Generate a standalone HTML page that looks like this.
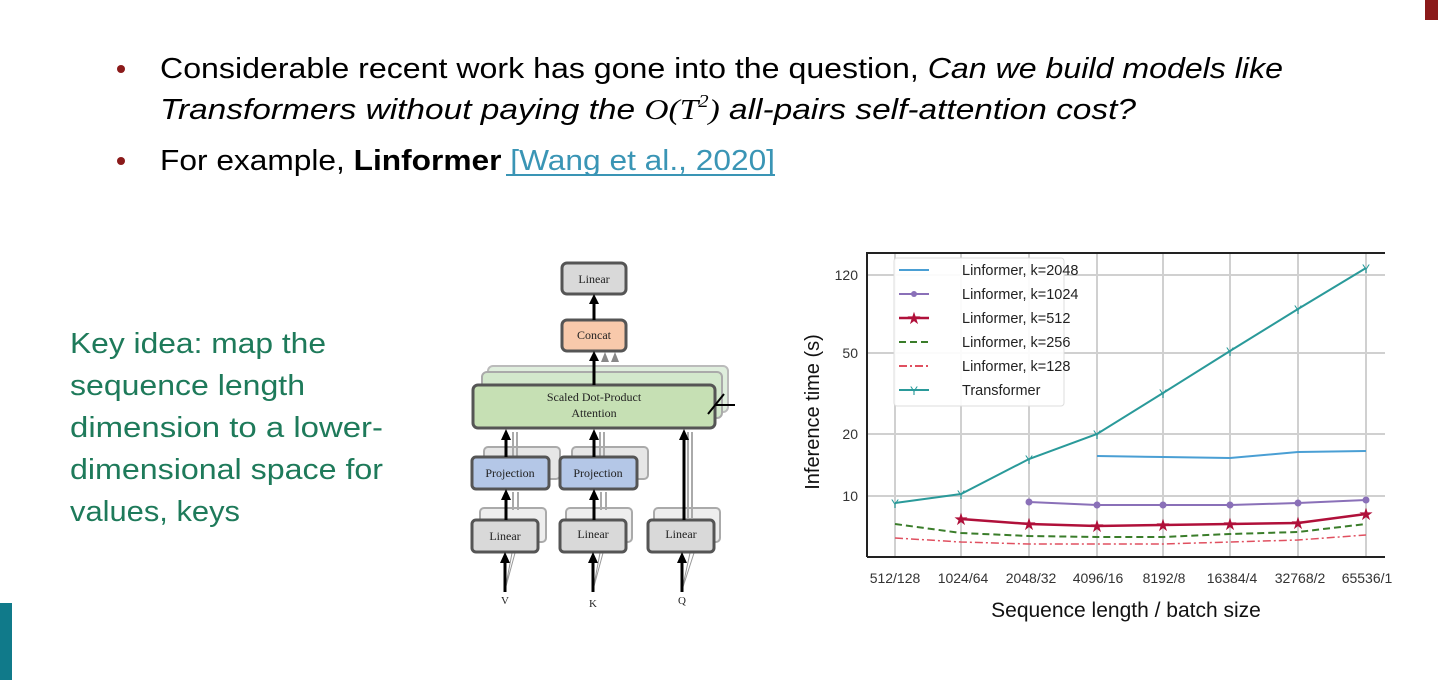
<!DOCTYPE html>
<html><head><meta charset="utf-8"><style>
body{margin:0;width:1438px;height:680px;overflow:hidden;background:#fff;font-family:"Liberation Sans",sans-serif;}
</style></head><body>
<svg width="1438" height="680" viewBox="0 0 1438 680" xmlns="http://www.w3.org/2000/svg" font-family="Liberation Sans, sans-serif">
<rect x="1425" y="0" width="13" height="20" fill="#8b1a1a"/>
<rect x="0" y="603" width="12" height="77" fill="#107a8a"/>
<circle cx="121" cy="69" r="4" fill="#8b1a1a"/>
<circle cx="121" cy="161" r="4" fill="#8b1a1a"/>
<text x="160" y="78" font-size="29" textLength="1123" lengthAdjust="spacingAndGlyphs">Considerable recent work has gone into the question, <tspan font-style="italic">Can we build models like</tspan></text>
<text x="160" y="119" font-size="29" font-style="italic" textLength="976" lengthAdjust="spacingAndGlyphs">Transformers without paying the <tspan font-family="Liberation Serif">O(T</tspan><tspan font-family="Liberation Serif" font-size="18" dy="-12">2</tspan><tspan font-family="Liberation Serif" dy="12">)</tspan> all-pairs self-attention cost?</text>
<text x="160" y="170" font-size="29" textLength="615" lengthAdjust="spacingAndGlyphs">For example, <tspan font-weight="bold">Linformer</tspan> <tspan fill="#3a95b5">[Wang et al., 2020]</tspan></text>
<line x1="506" y1="175" x2="775" y2="175" stroke="#3a95b5" stroke-width="2"/>
<g font-size="29" fill="#1e7a5a">
<text x="70" y="353" textLength="256" lengthAdjust="spacingAndGlyphs">Key idea: map the</text>
<text x="70" y="395" textLength="235" lengthAdjust="spacingAndGlyphs">sequence length</text>
<text x="70" y="437" textLength="313" lengthAdjust="spacingAndGlyphs">dimension to a lower-</text>
<text x="70" y="479" textLength="313" lengthAdjust="spacingAndGlyphs">dimensional space for</text>
<text x="70" y="521" textLength="170" lengthAdjust="spacingAndGlyphs">values, keys</text>
</g>
<!-- architecture diagram -->
<g font-family="Liberation Serif, serif" font-size="12" text-anchor="middle" fill="#222">
<g stroke="#aaa" stroke-width="2" fill="none">
<rect x="488" y="366" width="240" height="46" rx="5" fill="#dfeedd" stroke="#bbb"/>
<rect x="482" y="372" width="240" height="46" rx="5" fill="#d3e8cc" stroke="#aaa"/>
<rect x="484" y="447" width="76" height="32" rx="4" fill="#e6e6e6"/>
<rect x="572" y="447" width="76" height="32" rx="4" fill="#e6e6e6"/>
<rect x="480" y="508" width="66" height="34" rx="4" fill="#eee"/>
<rect x="566" y="508" width="66" height="34" rx="4" fill="#eee"/>
<rect x="654" y="508" width="66" height="34" rx="4" fill="#eee"/>
<line x1="513" y1="432" x2="513" y2="460"/><line x1="517" y1="432" x2="517" y2="460"/>
<line x1="600" y1="432" x2="600" y2="460"/><line x1="604" y1="432" x2="604" y2="460"/>
<line x1="688" y1="432" x2="688" y2="518"/><line x1="692" y1="432" x2="692" y2="518"/>
<line x1="513" y1="492" x2="513" y2="510"/><line x1="518" y1="492" x2="518" y2="510"/>
<line x1="601" y1="492" x2="601" y2="510"/><line x1="606" y1="492" x2="606" y2="510"/>
<line x1="605" y1="362" x2="605" y2="358"/><line x1="615" y1="362" x2="615" y2="358"/>
<path d="M505 590 L515 553 M505 590 L512 553" stroke="#999" stroke-width="1"/>
<path d="M593 590 L600 553 M593 590 L603 553" stroke="#999" stroke-width="1"/>
<path d="M682 590 L690 553 M682 590 L694 553" stroke="#999" stroke-width="1"/>
</g>
<g fill="#888"><polygon points="605,352 601,362 609,362"/><polygon points="615,352 611,362 619,362"/></g>
<rect x="562" y="263" width="64" height="31" rx="5" fill="#d9d9d9" stroke="#555" stroke-width="3"/>
<text x="594" y="283">Linear</text>
<rect x="562" y="320" width="64" height="31" rx="5" fill="#f8c9ab" stroke="#555" stroke-width="3"/>
<text x="594" y="339">Concat</text>
<rect x="473" y="385" width="242" height="43" rx="5" fill="#c6e0b4" stroke="#555" stroke-width="3"/>
<text x="594" y="401">Scaled Dot-Product</text><text x="594" y="417">Attention</text>
<rect x="472" y="457" width="77" height="32" rx="4" fill="#b4c7e7" stroke="#555" stroke-width="3"/>
<text x="510" y="477">Projection</text>
<rect x="560" y="457" width="77" height="32" rx="4" fill="#b4c7e7" stroke="#555" stroke-width="3"/>
<text x="598" y="477">Projection</text>
<rect x="472" y="520" width="66" height="32" rx="4" fill="#d9d9d9" stroke="#555" stroke-width="3"/>
<text x="505" y="540">Linear</text>
<rect x="560" y="520" width="66" height="32" rx="4" fill="#d9d9d9" stroke="#555" stroke-width="3"/>
<text x="593" y="538">Linear</text>
<rect x="648" y="520" width="66" height="32" rx="4" fill="#d9d9d9" stroke="#555" stroke-width="3"/>
<text x="681" y="538">Linear</text>
<g stroke="#000" stroke-width="3">
<line x1="594" y1="320" x2="594" y2="302"/><line x1="594" y1="385" x2="594" y2="358"/>
<line x1="506" y1="457" x2="506" y2="440"/><line x1="594" y1="457" x2="594" y2="440"/>
<line x1="684" y1="520" x2="684" y2="440"/>
<line x1="506" y1="520" x2="506" y2="500"/><line x1="594" y1="520" x2="594" y2="500"/>
<line x1="505" y1="592" x2="505" y2="562"/><line x1="593" y1="592" x2="593" y2="562"/><line x1="682" y1="592" x2="682" y2="562"/>
</g>
<g fill="#000">
<polygon points="594,294 589,304 599,304"/><polygon points="594,351 589,361 599,361"/>
<polygon points="506,429 501,440 511,440"/><polygon points="594,429 589,440 599,440"/><polygon points="684,429 679,440 689,440"/>
<polygon points="506,489 501,500 511,500"/><polygon points="594,489 589,500 599,500"/>
<polygon points="505,552 500,563 510,563"/><polygon points="593,552 588,563 598,563"/><polygon points="682,552 677,563 687,563"/>
</g>
<path d="M708 414 L724 394 M716 405 L735 405" stroke="#000" stroke-width="2" fill="none"/>
<text x="505" y="604" font-size="11">V</text><text x="593" y="607" font-size="11">K</text><text x="682" y="604" font-size="11">Q</text>
</g>
<!-- chart -->
<g>
<g stroke="#d0d0d0" stroke-width="2">
<line x1="867" y1="275" x2="1385" y2="275"/><line x1="867" y1="353" x2="1385" y2="353"/>
<line x1="867" y1="434" x2="1385" y2="434"/><line x1="867" y1="496" x2="1385" y2="496"/>
<line x1="895" y1="253" x2="895" y2="557"/><line x1="961" y1="253" x2="961" y2="557"/>
<line x1="1029" y1="253" x2="1029" y2="557"/><line x1="1097" y1="253" x2="1097" y2="557"/>
<line x1="1163" y1="253" x2="1163" y2="557"/><line x1="1230" y1="253" x2="1230" y2="557"/>
<line x1="1298" y1="253" x2="1298" y2="557"/><line x1="1366" y1="253" x2="1366" y2="557"/>
</g>
<path d="M867 557 L867 253 L1385 253" stroke="#222" stroke-width="2" fill="none"/>
<line x1="867" y1="557" x2="1385" y2="557" stroke="#222" stroke-width="2"/>
<polyline points="1097,456 1163,457 1230,458 1298,452 1366,451" fill="none" stroke="#4a9fd4" stroke-width="2"/>
<polyline points="1029,502 1097,505 1163,505 1230,505 1298,503 1366,500" fill="none" stroke="#8a70b8" stroke-width="2"/>
<g fill="#8a70b8"><circle cx="1029" cy="502" r="3.5"/><circle cx="1097" cy="505" r="3.5"/><circle cx="1163" cy="505" r="3.5"/><circle cx="1230" cy="505" r="3.5"/><circle cx="1298" cy="503" r="3.5"/><circle cx="1366" cy="500" r="3.5"/></g>
<polyline points="961,519 1029,524 1097,526 1163,525 1230,524 1298,523 1366,514" fill="none" stroke="#b0103a" stroke-width="2.5"/>
<g fill="#b0103a" font-size="17" text-anchor="middle"><text x="961" y="525">★</text><text x="1029" y="530">★</text><text x="1097" y="532">★</text><text x="1163" y="531">★</text><text x="1230" y="530">★</text><text x="1298" y="529">★</text><text x="1366" y="520">★</text></g>
<polyline points="895,524 961,533 1029,536 1097,537 1163,537 1230,534 1298,532 1366,524" fill="none" stroke="#3a7d2a" stroke-width="2" stroke-dasharray="7,4"/>
<polyline points="895,538 961,542 1029,544 1097,544 1163,544 1230,542 1298,540 1366,535" fill="none" stroke="#e05060" stroke-width="1.5" stroke-dasharray="8,3,2,3"/>
<polyline points="895,503 961,494 1029,459 1097,434 1163,393 1230,351 1298,309 1366,268" fill="none" stroke="#2a9a9a" stroke-width="2"/>
<g fill="#2a9a9a" font-size="12" text-anchor="middle"><text x="895" y="508">Y</text><text x="961" y="499">Y</text><text x="1029" y="464">Y</text><text x="1097" y="439">Y</text><text x="1163" y="398">Y</text><text x="1230" y="356">Y</text><text x="1298" y="314">Y</text><text x="1366" y="273">Y</text></g>
<rect x="894" y="258" width="170" height="148" rx="3" fill="#fff" fill-opacity="0.9" stroke="#ddd"/>
<g stroke-width="2">
<line x1="899" y1="270" x2="929" y2="270" stroke="#4a9fd4"/>
<line x1="899" y1="294" x2="929" y2="294" stroke="#8a70b8"/><circle cx="914" cy="294" r="3" fill="#8a70b8"/>
<line x1="899" y1="318" x2="929" y2="318" stroke="#b0103a" stroke-width="2.5"/>
<line x1="899" y1="342" x2="929" y2="342" stroke="#3a7d2a" stroke-dasharray="7,4"/>
<line x1="899" y1="366" x2="929" y2="366" stroke="#e05060" stroke-dasharray="8,3,2,3"/>
<line x1="899" y1="390" x2="929" y2="390" stroke="#2a9a9a"/>
</g>
<text x="914" y="324" font-size="17" fill="#b0103a" text-anchor="middle">★</text>
<text x="914" y="395" font-size="12" fill="#2a9a9a" text-anchor="middle">Y</text>
<g font-size="14.5" fill="#222">
<text x="962" y="275">Linformer, k=2048</text><text x="962" y="299">Linformer, k=1024</text>
<text x="962" y="323">Linformer, k=512</text><text x="962" y="347">Linformer, k=256</text>
<text x="962" y="371">Linformer, k=128</text><text x="962" y="395">Transformer</text>
</g>
<g font-size="14" fill="#333" text-anchor="end">
<text x="858" y="280">120</text><text x="858" y="358">50</text><text x="858" y="439">20</text><text x="858" y="501">10</text>
</g>
<g font-size="14" fill="#333" text-anchor="middle">
<text x="895" y="583">512/128</text><text x="963" y="583">1024/64</text><text x="1031" y="583">2048/32</text><text x="1098" y="583">4096/16</text>
<text x="1164" y="583">8192/8</text><text x="1232" y="583">16384/4</text><text x="1300" y="583">32768/2</text><text x="1367" y="583">65536/1</text>
</g>
<text x="1126" y="617" font-size="21" text-anchor="middle" fill="#111">Sequence length / batch size</text>
<text transform="translate(819,412) rotate(-90)" font-size="20" text-anchor="middle" fill="#111">Inference time (s)</text>
</g>
</svg>
</body></html>
